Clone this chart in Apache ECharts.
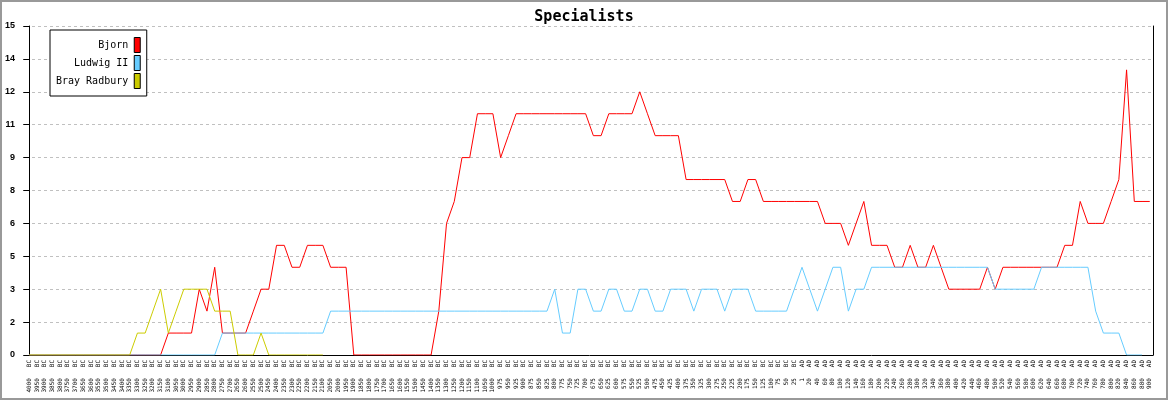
<!DOCTYPE html>
<html><head><meta charset="utf-8">
<script src="https://cdn.jsdelivr.net/npm/echarts@6/dist/echarts.min.js"></script>
<style>html,body{margin:0;padding:0;background:#fff}#c{width:1168px;height:400px}</style>
</head><body><div id="c"></div>
<script>
const categories = [
"4000 BC","3950 BC","3900 BC","3850 BC","3800 BC","3750 BC","3700 BC","3650 BC","3600 BC","3550 BC",
"3500 BC","3450 BC","3400 BC","3350 BC","3300 BC","3250 BC","3200 BC","3150 BC","3100 BC","3050 BC",
"3000 BC","2950 BC","2900 BC","2850 BC","2800 BC","2750 BC","2700 BC","2650 BC","2600 BC","2550 BC",
"2500 BC","2450 BC","2400 BC","2350 BC","2300 BC","2250 BC","2200 BC","2150 BC","2100 BC","2050 BC",
"2000 BC","1950 BC","1900 BC","1850 BC","1800 BC","1750 BC","1700 BC","1650 BC","1600 BC","1550 BC",
"1500 BC","1450 BC","1400 BC","1350 BC","1300 BC","1250 BC","1200 BC","1150 BC","1100 BC","1050 BC",
"1000 BC","975 BC","950 BC","925 BC","900 BC","875 BC","850 BC","825 BC","800 BC","775 BC",
"750 BC","725 BC","700 BC","675 BC","650 BC","625 BC","600 BC","575 BC","550 BC","525 BC",
"500 BC","475 BC","450 BC","425 BC","400 BC","375 BC","350 BC","325 BC","300 BC","275 BC",
"250 BC","225 BC","200 BC","175 BC","150 BC","125 BC","100 BC","75 BC","50 BC","25 BC",
"1 AD","20 AD","40 AD","60 AD","80 AD","100 AD","120 AD","140 AD","160 AD","180 AD",
"200 AD","220 AD","240 AD","260 AD","280 AD","300 AD","320 AD","340 AD","360 AD","380 AD",
"400 AD","420 AD","440 AD","460 AD","480 AD","500 AD","520 AD","540 AD","560 AD","580 AD",
"600 AD","620 AD","640 AD","660 AD","680 AD","700 AD","720 AD","740 AD","760 AD","780 AD",
"800 AD","820 AD","840 AD","860 AD","880 AD","900 AD"
];
const bjorn = [
0,0,0,0,0,0,0,0,0,0, 0,0,0,0,0,0,0,0,1,1, 1,1,3,2,4,1,1,1,1,2,
3,3,5,5,4,4,5,5,5,4, 4,4,0,0,0,0,0,0,0,0, 0,0,0,2,6,7,9,9,11,11,
11,9,10,11,11,11,11,11,11,11, 11,11,11,10,10,11,11,11,11,12, 11,10,10,10,10,8,8,8,8,8,
8,7,7,8,8,7,7,7,7,7, 7,7,7,6,6,6,5,6,7,5, 5,5,4,4,5,4,4,5,4,3,
3,3,3,3,4,3,4,4,4,4, 4,4,4,4,5,5,7,6,6,6, 7,8,13,7,7,7
];
const ludwig = [
0,0,0,0,0,0,0,0,0,0, 0,0,0,0,0,0,0,0,0,0, 0,0,0,0,0,1,1,1,1,1,
1,1,1,1,1,1,1,1,1,2, 2,2,2,2,2,2,2,2,2,2, 2,2,2,2,2,2,2,2,2,2,
2,2,2,2,2,2,2,2,3,1, 1,3,3,2,2,3,3,2,2,3, 3,2,2,3,3,3,2,3,3,3,
2,3,3,3,2,2,2,2,2,3, 4,3,2,3,4,4,2,3,3,4, 4,4,4,4,4,4,4,4,4,4,
4,4,4,4,4,3,3,3,3,3, 3,4,4,4,4,4,4,4,2,1, 1,1,0,0,0
];
const bray = [
0,0,0,0,0,0,0,0,0,0, 0,0,0,0,1,1,2,3,1,2, 3,3,3,3,2,2,2,0,0,0,
1,0,0,0,0,0,0,0,0
];
const seriesNames = ["Bjorn", "Ludwig II", "Bray Radbury"];
const seriesColors = ["#ff0000", "#66ccff", "#cccc00"];

const chart = echarts.init(document.getElementById('c'), null, {renderer: 'canvas'});
const toPairs = arr => arr.map((v, i) => [i, v]);
const labelIdx = categories.map((c, i) => i);
const seriesData = [bjorn, ludwig, bray];

chart.setOption({
  animation: false,
  backgroundColor: '#fff',
  title: {
    text: 'Specialists', left: 'center', top: 5,
    textStyle: {fontFamily: 'DejaVu Sans Mono', fontWeight: 'bold', fontSize: 15, color: '#000'}
  },
  graphic: [{type: 'rect', silent: true, shape: {x: 1, y: 1, width: 1166, height: 398},
    style: {fill: 'none', stroke: '#999', lineWidth: 2}}],
  legend: {
    orient: 'vertical', left: 50, top: 30, align: 'right',
    icon: 'rect', itemWidth: 6, itemHeight: 15, itemGap: 2,
    padding: [7, 6, 7, 6], borderColor: '#000', borderWidth: 1, backgroundColor: '#fff',
    textStyle: {fontFamily: 'DejaVu Sans Mono', fontSize: 10, color: '#000', padding: [0, 1, 0, 0]},
    itemStyle: {borderColor: '#000', borderWidth: 1},
    data: seriesNames
  },
  grid: {left: 26, right: 15, top: 26, bottom: 45},
  xAxis: {
    type: 'value', min: -0.42, max: 145.42,
    axisLine: {show: true, lineStyle: {color: '#000', width: 1}},
    axisTick: {show: false},
    splitLine: {show: false},
    axisLabel: {
      customValues: labelIdx, rotate: 90, margin: 5,
      fontFamily: 'DejaVu Sans Mono', fontSize: 6, color: '#000',
      formatter: v => categories[v].replace(' ', '   ')
    }
  },
  yAxis: [{
    type: 'value', min: 0, max: 15, interval: 1.5,
    axisLine: {show: true, lineStyle: {color: '#000', width: 1}},
    axisTick: {show: true, length: 6, lineStyle: {color: '#000'}},
    splitLine: {show: true, lineStyle: {color: '#c0c0c0', type: [3, 3], width: 1}},
    axisLabel: {
      margin: 11, fontFamily: 'Liberation Sans', fontWeight: 'bold', fontSize: 9, color: '#000',
      formatter: v => String(Math.round(v))
    }
  }, {
    type: 'value', min: 0, max: 15, position: 'right',
    axisLine: {show: true, lineStyle: {color: '#000', width: 1}},
    axisTick: {show: false}, axisLabel: {show: false}, splitLine: {show: false}
  }],
  series: seriesData.map((arr, k) => ({
    name: seriesNames[k], type: 'line', data: toPairs(arr),
    symbol: 'none', showSymbol: false,
    color: seriesColors[k],
    lineStyle: {color: seriesColors[k], width: 1},
    itemStyle: {color: seriesColors[k]}
  }))
});
</script>
</body></html>
